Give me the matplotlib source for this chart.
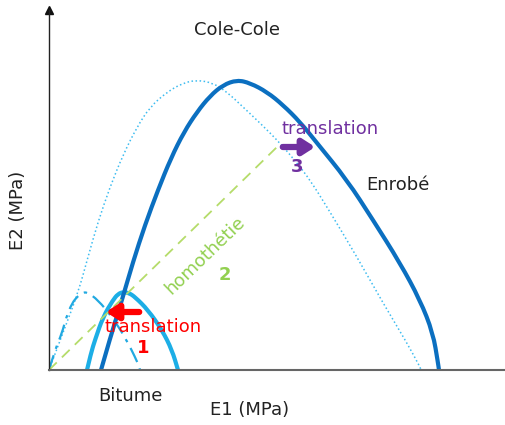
import matplotlib
matplotlib.use("Agg")
import matplotlib.pyplot as plt
from matplotlib.path import Path
from matplotlib.patches import PathPatch

# --- data (E1, E2), arbitrary MPa units ----------------
enrobe_e1 = [52, 62, 73, 84, 96, 109, 122, 135, 148, 161, 174, 188, 201, 218, 234, 251, 268, 298, 324, 351, 371, 384, 389, 390]
enrobe_e2 = [0, 35, 70, 108, 145, 180, 212, 238, 258, 274, 285, 290, 287, 278, 265, 248, 227, 190, 150, 107, 70, 37, 7, 0]

homot_e1 = [0, 15, 29, 39, 49, 61, 74, 88, 101, 118, 134, 148, 164, 178, 194, 211, 231, 248, 261, 278, 308, 334, 358, 371, 372]
homot_e2 = [0, 40, 77, 113, 148, 183, 215, 243, 263, 278, 287, 290, 287, 278, 263, 247, 227, 207, 190, 163, 113, 67, 27, 3, 0]

bitume_e1 = [38, 42, 46, 54, 64, 69, 74, 80, 86, 99, 113, 123, 129]
bitume_e2 = [0, 17, 30, 53, 70, 76, 78, 77, 73, 60, 40, 20, 0]

orig_e1 = [0, 6, 13, 17, 23, 29, 33, 38, 49, 63, 76, 89, 91]
orig_e2 = [0, 20, 37, 52, 67, 74, 77, 78, 70, 53, 33, 7, 0]

diag_e1 = [0, 228]
diag_e2 = [0, 223]

arrow1 = ((93, 58), (54, 58))     # translation 1 (from, to)
arrow3 = ((231, 223), (269, 223))  # translation 3 (from, to)


def smooth_curve(ax, xs, ys, **kw):
    # quadratic bezier through midpoints, read points used as control points
    pts = list(zip(xs, ys))
    verts = [pts[0]]
    codes = [Path.MOVETO]
    for i in range(1, len(pts) - 1):
        mid = ((pts[i][0] + pts[i + 1][0]) / 2, (pts[i][1] + pts[i + 1][1]) / 2)
        verts += [pts[i], mid]
        codes += [Path.CURVE3, Path.CURVE3]
    verts.append(pts[-1])
    codes.append(Path.LINETO)
    ax.add_patch(PathPatch(Path(verts, codes), fill=False, capstyle="butt", **kw))


# --- figure -------------------------------------------------------------------
fig = plt.figure(figsize=(5.06, 4.25), dpi=100)
ax = fig.add_axes([49 / 506, 55 / 425, 457 / 506, 360 / 425])
ax.set_xlim(0, 457)
ax.set_ylim(0, 360)
ax.set_xticks([])
ax.set_yticks([])
for s in ["top", "right"]:
    ax.spines[s].set_visible(False)
ax.spines["left"].set_color("#222222")
ax.spines["left"].set_linewidth(1.0)
ax.spines["bottom"].set_color("#666666")
ax.spines["bottom"].set_linewidth(1.5)
ax.plot(0, 1, "^", color="#111111", ms=6, transform=ax.get_xaxis_transform(), clip_on=False)

ax.plot(diag_e1, diag_e2, color="#B5DC6A", lw=1.3, ls=(0, (6, 4)))
smooth_curve(ax, homot_e1, homot_e2, edgecolor="#3DBCF0", lw=1.1, ls=":")
smooth_curve(ax, orig_e1, orig_e2, edgecolor="#21A9E1", lw=1.6, ls=(0, (7, 3, 1.5, 3)))
smooth_curve(ax, bitume_e1, bitume_e2, edgecolor="#1CAEE6", lw=3)
smooth_curve(ax, enrobe_e1, enrobe_e2, edgecolor="#0B6FC0", lw=3)

ax.annotate("", xy=arrow1[1], xytext=arrow1[0],
            arrowprops=dict(arrowstyle="-|>,head_width=0.45,head_length=0.7", color="#FF0000", lw=4.5))
ax.annotate("", xy=arrow3[1], xytext=arrow3[0],
            arrowprops=dict(arrowstyle="-|>,head_width=0.45,head_length=0.7", color="#7030A0", lw=4.5))

fs = 13
ax.text(104, 43, "translation", color="#FF0000", fontsize=fs, ha="center", va="center")
ax.text(94, 22, "1", color="#FF0000", fontsize=fs, ha="center", va="center", fontweight="bold")
ax.text(281, 241, "translation", color="#7030A0", fontsize=fs, ha="center", va="center")
ax.text(248, 203, "3", color="#7030A0", fontsize=fs, ha="center", va="center", fontweight="bold")
ax.text(156, 115, "homothétie", color="#92D050", fontsize=fs, ha="center", va="center", rotation=44)
ax.text(176, 95, "2", color="#92D050", fontsize=fs, ha="center", va="center", fontweight="bold")
ax.text(349, 185, "Enrobé", color="#222222", fontsize=fs, ha="center", va="center")

fig.text(237 / 506, 1 - 30 / 425, "Cole-Cole", fontsize=fs, ha="center", va="center", color="#222222")
fig.text(130 / 506, 1 - 396 / 425, "Bitume", fontsize=fs, ha="center", va="center", color="#222222")
fig.text(250 / 506, 1 - 410 / 425, "E1 (MPa)", fontsize=fs, ha="center", va="center", color="#222222")
fig.text(18 / 506, 1 - 210 / 425, "E2 (MPa)", fontsize=fs, ha="center", va="center", rotation=90, color="#222222")

plt.savefig("out.png", dpi=100)
